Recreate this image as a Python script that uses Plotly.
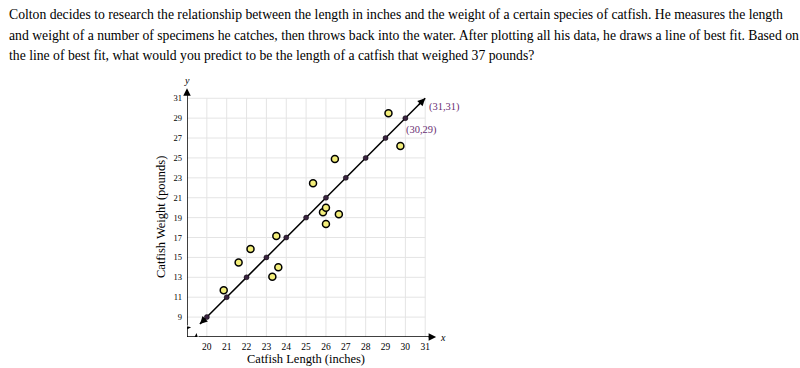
import plotly.graph_objects as go

# ---- data ----
question_lines = [
    "Colton decides to research the relationship between the length in inches and the weight of a certain species of catfish. He measures the length",
    "and weight of a number of specimens he catches, then throws back into the water. After plotting all his data, he draws a line of best fit. Based on",
    "the line of best fit, what would you predict to be the length of a catfish that weighed 37 pounds?",
]
sample_length = [20.85, 21.6, 22.2, 23.3, 23.5, 23.6, 25.35, 25.85, 26.0, 26.0, 26.45, 26.65, 29.15, 29.75]
sample_weight = [11.7, 14.5, 15.85, 13.05, 17.15, 14.0, 22.45, 19.55, 20.0, 18.35, 24.9, 19.35, 29.5, 26.2]
fit_length = [20, 21, 22, 23, 24, 25, 26, 27, 28, 29, 30]
fit_weight = [9, 11, 13, 15, 17, 19, 21, 23, 25, 27, 29]
fit_start = (19.65, 8.3)
fit_end = (31, 31)
labeled_points = [(31, 31, "(31,31)"), (30, 29, "(30,29)")]
x_ticks = list(range(20, 32))
y_ticks = list(range(9, 32, 2))
x_title = "Catfish Length (inches)"
y_title = "Catfish Weight (pounds)"

X0, Y0 = 19, 7
XR = [19, 31.594]
YR = [7, 32.03]
SERIF = "Liberation Serif"

fig = go.Figure()

shapes = []
# grid
for xv in x_ticks:
    shapes.append(dict(type="line", xref="x", yref="y", x0=xv, x1=xv, y0=Y0, y1=31,
                       line=dict(color="#e4e4e4", width=1), layer="below"))
for yv in y_ticks:
    shapes.append(dict(type="line", xref="x", yref="y", x0=X0, x1=31, y0=yv, y1=yv,
                       line=dict(color="#e4e4e4", width=1), layer="below"))
# axes with breaks
ax_line = dict(color="black", width=1.5)
shapes += [
    dict(type="line", xref="x", yref="y", x0=X0, x1=X0, y0=Y0, y1=7.85, line=ax_line),
    dict(type="line", xref="x", yref="y", x0=X0, x1=X0, y0=8.15, y1=31.6, line=ax_line),
    dict(type="path", xref="x", yref="y",
         path=f"M {X0},7.85 L {X0+0.1},7.95 L {X0-0.1},8.05 L {X0},8.15", line=ax_line),
    dict(type="line", xref="x", yref="y", x0=X0, x1=19.42, y0=Y0, y1=Y0, line=ax_line),
    dict(type="line", xref="x", yref="y", x0=19.58, x1=31.2, y0=Y0, y1=Y0, line=ax_line),
    dict(type="path", xref="x", yref="y",
         path=f"M 19.42,{Y0} L 19.47,{Y0+0.2} L 19.53,{Y0-0.2} L 19.58,{Y0}", line=ax_line),
]

# best-fit line
fig.add_trace(go.Scatter(x=[fit_start[0]] + fit_length + [fit_end[0]],
                         y=[fit_start[1]] + fit_weight + [fit_end[1]],
                         mode="lines", line=dict(color="black", width=1.5),
                         hoverinfo="skip", showlegend=False))
fig.add_trace(go.Scatter(x=fit_length, y=fit_weight, mode="markers",
                         marker=dict(size=5, color="#3a2340", line=dict(color="black", width=0.5)),
                         showlegend=False))
fig.add_trace(go.Scatter(x=sample_length, y=sample_weight, mode="markers",
                         marker=dict(size=7, color="#f3ee7a", line=dict(color="black", width=1.5)),
                         showlegend=False))

annotations = []
# arrows for fit line
annotations.append(dict(x=fit_end[0], y=fit_end[1], ax=30.6, ay=30.2, xref="x", yref="y",
                        axref="x", ayref="y", showarrow=True, arrowhead=2, arrowsize=1,
                        arrowwidth=1.5, arrowcolor="black", text=""))
annotations.append(dict(x=fit_start[0], y=fit_start[1], ax=20.0, ay=9.0, xref="x", yref="y",
                        axref="x", ayref="y", showarrow=True, arrowhead=2, arrowsize=1,
                        arrowwidth=1.5, arrowcolor="black", text=""))
# axis arrowheads
annotations.append(dict(x=X0, y=32.0, ax=X0, ay=31.3, xref="x", yref="y", axref="x", ayref="y",
                        showarrow=True, arrowhead=2, arrowsize=1, arrowwidth=1.5,
                        arrowcolor="black", text=""))
annotations.append(dict(x=31.55, y=Y0, ax=31.1, ay=Y0, xref="x", yref="y", axref="x", ayref="y",
                        showarrow=True, arrowhead=2, arrowsize=1, arrowwidth=1.5,
                        arrowcolor="black", text=""))
annotations.append(dict(x=X0, y=32.0, xref="x", yref="y", text="<i>y</i>", showarrow=False,
                        xanchor="center", yanchor="bottom", yshift=0,
                        font=dict(family=SERIF, size=10, color="black")))
annotations.append(dict(x=31.594, y=Y0, xref="x", yref="y", text="<i>x</i>", showarrow=False,
                        xanchor="left", yanchor="middle", xshift=1,
                        font=dict(family=SERIF, size=10, color="black")))
# point labels
for px, py, t in labeled_points:
    if px == 31:
        annotations.append(dict(x=px, y=py, xref="x", yref="y", text=t, showarrow=False,
                                xanchor="left", yanchor="top", xshift=2, yshift=-1,
                                font=dict(family=SERIF, size=10.5, color="#6a2f73")))
    else:
        annotations.append(dict(x=px, y=py, xref="x", yref="y", text=t, showarrow=False,
                                xanchor="left", yanchor="top", xshift=-1, yshift=-4,
                                font=dict(family=SERIF, size=10.5, color="#6a2f73")))
# axis titles
L, W, T, H = 187, 250, 88, 249
def paper_x(px):
    return (px - L) / W
def paper_y(py):
    return (T + H - py) / H
annotations.append(dict(x=paper_x(306), y=paper_y(359), xref="paper", yref="paper", text=x_title,
                        showarrow=False, xanchor="center", yanchor="middle",
                        font=dict(family=SERIF, size=12.5, color="black")))
annotations.append(dict(x=paper_x(161), y=paper_y(217), xref="paper", yref="paper", text=y_title,
                        showarrow=False, textangle=-90, xanchor="center", yanchor="middle",
                        font=dict(family=SERIF, size=12.5, color="black")))
# question text
for i, line in enumerate(question_lines):
    annotations.append(dict(x=paper_x(7), y=paper_y(15 + 20.3 * i), xref="paper", yref="paper",
                            text=line, showarrow=False, xanchor="left", yanchor="middle",
                            font=dict(family=SERIF, size=13.7, color="black")))

fig.update_layout(
    width=800, height=368,
    margin=dict(l=L, r=800 - L - W, t=T, b=368 - T - H),
    plot_bgcolor="white", paper_bgcolor="white",
    shapes=shapes, annotations=annotations, showlegend=False,
    xaxis=dict(range=XR, showgrid=False, zeroline=False, showline=False,
               tickvals=x_ticks, ticktext=[str(v) for v in x_ticks], ticks="",
               ticklabelstandoff=2,
               tickfont=dict(family=SERIF, size=9.5, color="black"), fixedrange=True),
    yaxis=dict(range=YR, showgrid=False, zeroline=False, showline=False,
               tickvals=y_ticks, ticktext=[str(v) for v in y_ticks], ticks="",
               ticklabelstandoff=4,
               tickfont=dict(family=SERIF, size=8.5, color="black"), fixedrange=True),
)

fig.write_html("out.html", config={"displayModeBar": False},
               post_script="document.body.style.margin='0';document.body.style.overflow='hidden';")
